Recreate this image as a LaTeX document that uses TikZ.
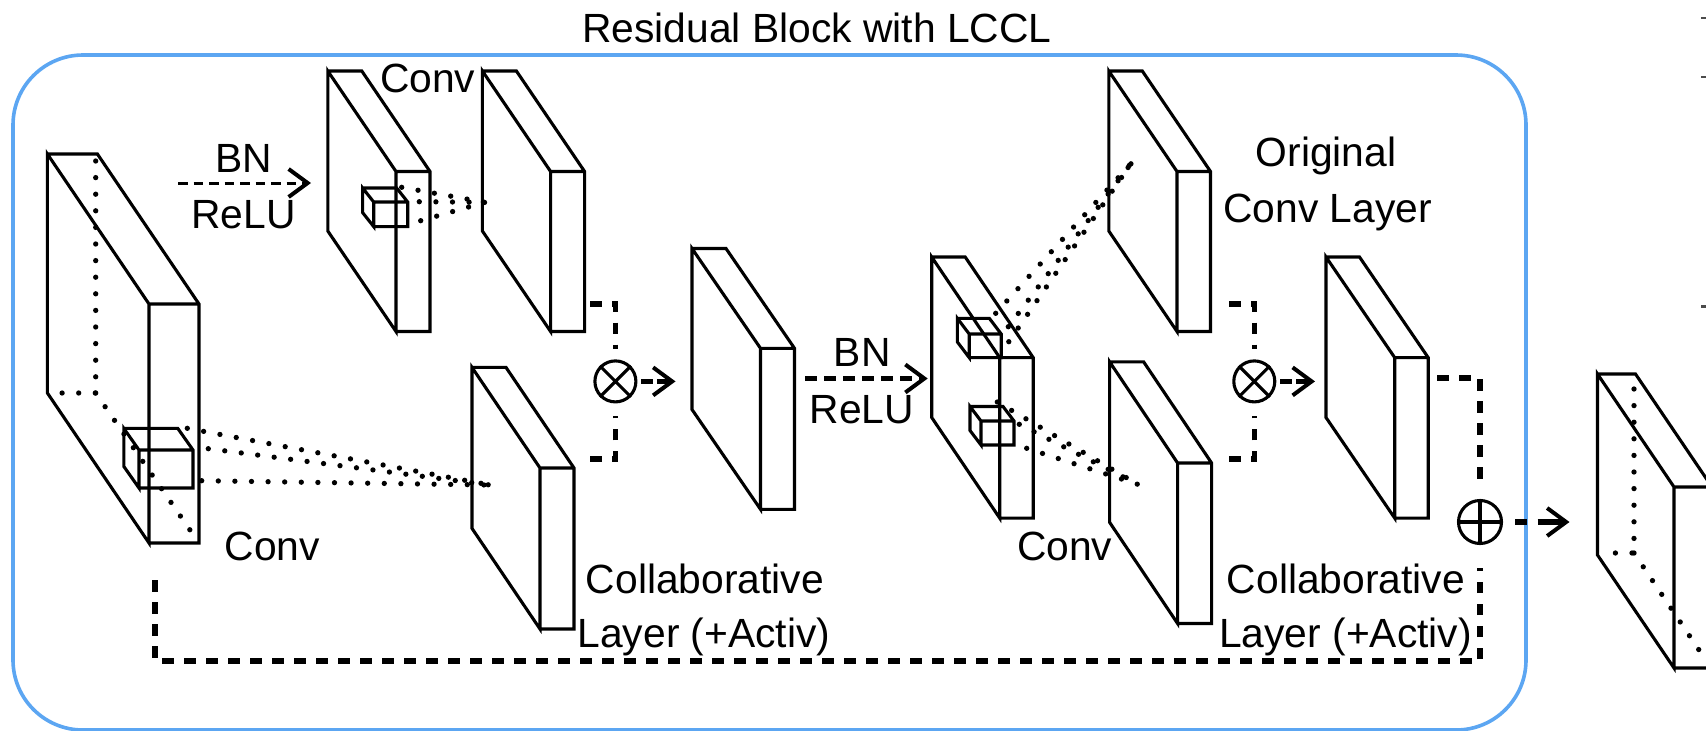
\documentclass[tikz,border=0pt]{standalone}
\usepackage{xcolor}
\usepackage{fontspec}
\setmainfont{Liberation Sans}
\usetikzlibrary{arrows.meta}
\definecolor{frameblue}{HTML}{5CA6F2}
\newcommand{\layerbox}[6]{%
\draw[boxline] (#1,#2) -- ++(#3,#4) -- ++(0,#6) -- ++(-#3,-#4) -- cycle
  (#1,#2) -- ++(#5,0) -- ++(#3,#4) -- ++(0,#6) -- ++(-#5,0)
  (#1,#2) ++(#3,#4) -- ++(#5,0);}
\tikzset{
  boxline/.style={line width=3.1pt,line join=miter},
  lbl/.style={anchor=base,inner sep=0pt,font=\fontsize{40.8}{40.8}\selectfont},
  dotline/.style={line width=5.3pt,line cap=round,dash pattern=on 0pt off 16.6pt},
  thindash/.style={line width=3pt,dash pattern=on 9.5pt off 6pt},
  thickdash/.style={line width=5.2pt,dash pattern=on 11.5pt off 10.5pt},
  flow/.style={-{Straight Barb[length=19pt,width=28pt,line width=4pt]}},
  opcircle/.style={draw,circle,line width=3.1pt,inner sep=0pt,minimum size=41pt}
}
\begin{document}
\begin{tikzpicture}[x=1pt,y=-1pt]
\clip (0,0) rectangle (1706,731);
\draw[frameblue,line width=3.6pt,rounded corners=70pt] (13,55) rectangle (1526,730);
\node[lbl] (titlelbl) at (817,42) {Residual Block with LCCL};
\layerbox{47.4}{154}{101.6}{150}{50}{239}
\layerbox{327.8}{71}{68.2}{100.5}{34}{160}
\layerbox{482.4}{71}{68.2}{100.5}{34}{160}
\layerbox{472}{367.4}{68}{100.6}{34}{161}
\layerbox{692}{248.5}{68.5}{99.8}{34}{161}
\layerbox{931.7}{257}{68}{100.6}{33.5}{160.5}
\layerbox{1108.8}{71}{68.2}{100.5}{33.5}{160}
\layerbox{1109.6}{361.8}{68}{101.2}{34}{160.5}
\layerbox{1326}{257}{68.7}{100.6}{33.5}{160.5}
\layerbox{1597.5}{374}{76.5}{113}{38}{181}
\layerbox{123.8}{428.4}{15.2}{21.6}{54}{38}
\layerbox{362.6}{188}{11.1}{14}{34}{24.6}
\layerbox{957.4}{318.4}{11.8}{15.6}{32}{23.6}
\layerbox{970}{406.5}{11}{14.5}{33}{24}
\draw[dotline] (95.7,161) -- (95.7,393) -- (61,393);
\draw[dotline] (95.7,393) -- (190,530);
\draw[dotline] (1634,389) -- (1634,553) -- (1612.8,553);
\draw[dotline] (1634,553) -- (1701,653);
\coordinate (bigend) at (490,485);
\foreach \sx/\sy in {187.3/428.3,208.3/448.7,201.7/480.7}
  \draw[dotline] (\sx,\sy) -- (bigend);
\coordinate (smallend) at (485,202.3);
\foreach \sx/\sy in {401.7/187.3,419.3/201.7,420.7/220.7}
  \draw[dotline] (\sx,\sy) -- (smallend);
\coordinate (upperend) at (1131.7,162.7);
\foreach \sx/\sy in {995.7/313.3,1008.3/326.7,1008.8/341.7}
  \draw[dotline] (\sx,\sy) -- (upperend);
\coordinate (lowerend) at (1137.7,484.3);
\foreach \sx/\sy in {997.3/402,1019.3/424.3,1026.7/448.3}
  \draw[dotline] (\sx,\sy) -- (lowerend);
\node[opcircle] (mulone) at (615.4,381.4) {};
\node[opcircle] (multwo) at (1254.3,381.4) {};
\node[opcircle,minimum size=43pt] (addop) at (1480,522) {};
\draw[line width=3.1pt] (mulone.north west) -- (mulone.south east) (mulone.north east) -- (mulone.south west);
\draw[line width=3.1pt] (multwo.north west) -- (multwo.south east) (multwo.north east) -- (multwo.south west);
\draw[line width=3.1pt] (addop.north) -- (addop.south) (addop.west) -- (addop.east);
\coordinate (boxthreeout) at (590,304);
\coordinate (collabout) at (590,459);
\coordinate (boxsevenout) at (1229,304);
\coordinate (collabtwoout) at (1229,459);
\coordinate (boxnineout) at (1437,378);
\coordinate (skipstart) at (155,580);
\coordinate (bnstart) at (178,183);
\coordinate (bnend) at (311,183);
\coordinate (bntwostart) at (805,378.5);
\coordinate (bntwoend) at (927.7,378.5);
\coordinate (boxfivein) at (675.5,381.4);
\coordinate (boxninein) at (1315,381.4);
\coordinate (outputin) at (1569.5,522);
\draw[thickdash,shorten >=10pt] (boxthreeout) -| (mulone.north);
\draw[thickdash,shorten >=13pt] (collabout) -| (mulone.south);
\draw[thickdash,shorten >=10pt] (boxsevenout) -| (multwo.north);
\draw[thickdash,shorten >=13pt] (collabtwoout) -| (multwo.south);
\draw[thickdash,shorten >=15pt] (boxnineout) -| (addop.north);
\draw[thickdash,shorten >=23pt] (skipstart) |- (1480,661) -- (addop.south);
\draw[thindash,flow] (bnstart) -- (bnend);
\draw[thickdash,flow,dash pattern=on 12pt off 7pt] (bntwostart) -- (bntwoend);
\draw[thickdash,flow,dash pattern=on 12pt off 4pt,shorten <=4pt] (mulone.east) -- (boxfivein);
\draw[thickdash,flow,dash pattern=on 12pt off 4pt,shorten <=4pt] (multwo.east) -- (boxninein);
\draw[thickdash,flow,dash pattern=on 11.5pt off 11pt on 50pt off 0pt,shorten <=12pt] (addop.east) -- (outputin);
\node[lbl] (convtoplbl) at (427.7,92.8) {Conv};
\node[lbl] (bnonelbl) at (244,172.5) {BN};
\node[lbl] (reluonelbl) at (243.6,228) {ReLU};
\node[lbl] (convleftlbl) at (272.4,560.4) {Conv};
\node[lbl] (collabonelbl) at (705,593) {Collaborative};
\node[lbl] (activonelbl) at (704,647.6) {Layer (+Activ)};
\node[lbl] (bntwolbl) at (862.3,366) {BN};
\node[lbl] (relutwolbl) at (861.7,423) {ReLU};
\node[lbl] (convmidlbl) at (1064.7,560.4) {Conv};
\node[lbl] (origlbl) at (1326,166.5) {Original};
\node[lbl] (convlayerlbl) at (1327.7,222.4) {Conv Layer};
\node[lbl] (collabtwolbl) at (1346,593) {Collaborative};
\node[lbl] (activtwolbl) at (1345.5,647.6) {Layer (+Activ)};
\foreach \ty in {18,77,306.7}
  \draw[line width=2.6pt,black!70] (1701,\ty) -- (1706,\ty);
\end{tikzpicture}
\end{document}
